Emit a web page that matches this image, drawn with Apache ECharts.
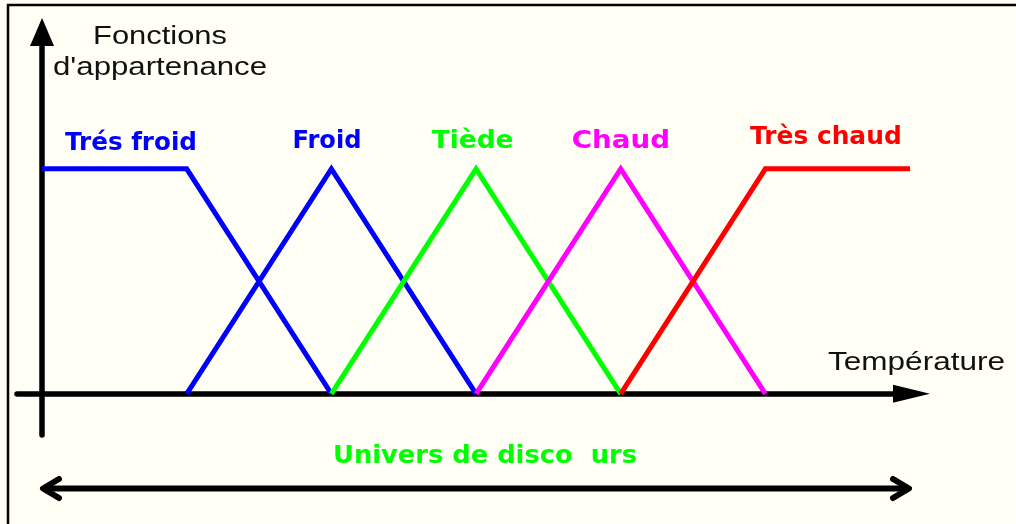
<!DOCTYPE html>
<html><head><meta charset="utf-8">
<script src="https://cdn.jsdelivr.net/npm/echarts@6/dist/echarts.min.js"></script>
<style>html,body{margin:0;padding:0;background:#fffff6}#c{width:1016px;height:524px}</style>
</head><body><div id="c"></div>
<script>
// ---- data ----
const seriesNames = ['Trés froid', 'Froid', 'Tiède', 'Chaud', 'Très chaud'];
const tresFroid = [[0, 1], [1, 1], [2, 0]];
const froid     = [[1, 0], [2, 1], [3, 0]];
const tiede     = [[2, 0], [3, 1], [4, 0]];
const chaud     = [[3, 0], [4, 1], [5, 0]];
const tresChaud = [[4, 0], [5, 1], [6, 1]];
const yAxisTitle = ['Fonctions', "d'appartenance"];
const xAxisTitle = 'Température';
const universeTitle = 'Univers de disco  urs';

// ---- styles / layout ----
const seriesData = [tresFroid, froid, tiede, chaud, tresChaud];
const seriesColors = ['#0000ff', '#0000ff', '#00ff00', '#ff00ff', '#ff0000'];
const labelBoxes = [
  { x: 65, y: 143.5, w: 132 },
  { x: 292.5, y: 141.5, w: 69 },
  { x: 431.7, y: 141.5, w: 81.7 },
  { x: 571.7, y: 141.5, w: 98.3 },
  { x: 750, y: 138.2, w: 151.7 }
];
const boldFont = 'bold 24px "DejaVu Sans"';
const regFont = '25px "Liberation Sans"';

const ctx = document.createElement('canvas').getContext('2d');
function measure(text, font) { ctx.font = font; return ctx.measureText(text).width; }
function textEl(text, font, color, x, y, w) {
  const s = w / measure(text, font);
  return {
    type: 'text', x: x, y: y, scaleX: s, scaleY: 1, originX: 0, originY: 0, silent: true, z: 100,
    style: { text: text, font: font, fill: color, align: 'left', verticalAlign: 'middle',
             textAlign: 'left', textVerticalAlign: 'middle' }
  };
}

const graphics = [];
// frame
graphics.push({ type: 'polyline', shape: { points: [[8, 524], [8, 5], [1016, 5]] },
  style: { stroke: '#000', lineWidth: 2.5, fill: null }, silent: true });
// double arrow
graphics.push({ type: 'line', shape: { x1: 43, y1: 488.5, x2: 909, y2: 488.5 },
  style: { stroke: '#000', lineWidth: 6 }, silent: true });
graphics.push({ type: 'polyline', shape: { points: [[59, 479], [43, 488.5], [59, 498]] },
  style: { stroke: '#000', lineWidth: 6, fill: null, lineJoin: 'round', lineCap: 'round' }, silent: true });
graphics.push({ type: 'polyline', shape: { points: [[893, 479], [909, 488.5], [893, 498]] },
  style: { stroke: '#000', lineWidth: 6, fill: null, lineJoin: 'round', lineCap: 'round' }, silent: true });
// texts
graphics.push(textEl(yAxisTitle[0], regFont, '#111', 93, 37.5, 134));
graphics.push(textEl(yAxisTitle[1], regFont, '#111', 53, 68.5, 214));
graphics.push(textEl(xAxisTitle, regFont, '#111', 828, 363.2, 177));
graphics.push(textEl(universeTitle, boldFont, '#00ff00', 333, 456.5, 304));
seriesNames.forEach(function (n, i) {
  const b = labelBoxes[i];
  graphics.push(textEl(n, boldFont, seriesColors[i], b.x, b.y, b.w));
});

const chart = echarts.init(document.getElementById('c'), null, { renderer: 'canvas' });
chart.setOption({
  backgroundColor: '#fffff6',
  animation: false,
  grid: { left: 17, right: 104.5, top: 32, bottom: 89, containLabel: false },
  xAxis: {
    type: 'value', min: -0.173, max: 6.01,
    axisLine: { show: true, onZero: true, symbol: ['none', 'triangle'], symbolSize: [18, 37],
      lineStyle: { color: '#000', width: 5.5 } },
    axisTick: { show: false }, axisLabel: { show: false }, splitLine: { show: false }
  },
  yAxis: {
    type: 'value', min: -0.183, max: 1.608,
    axisLine: { show: true, onZero: true, symbol: ['none', 'triangle'], symbolSize: [24, 28],
      lineStyle: { color: '#000', width: 5.5 } },
    axisTick: { show: false }, axisLabel: { show: false }, splitLine: { show: false }
  },
  series: seriesNames.map(function (n, i) {
    return {
      name: n, type: 'line', data: seriesData[i], showSymbol: false, symbol: 'none',
      lineStyle: { color: seriesColors[i], width: 5, join: 'miter' }, z: 2 + i, silent: true
    };
  }),
  graphic: graphics
});
</script>
</body></html>
